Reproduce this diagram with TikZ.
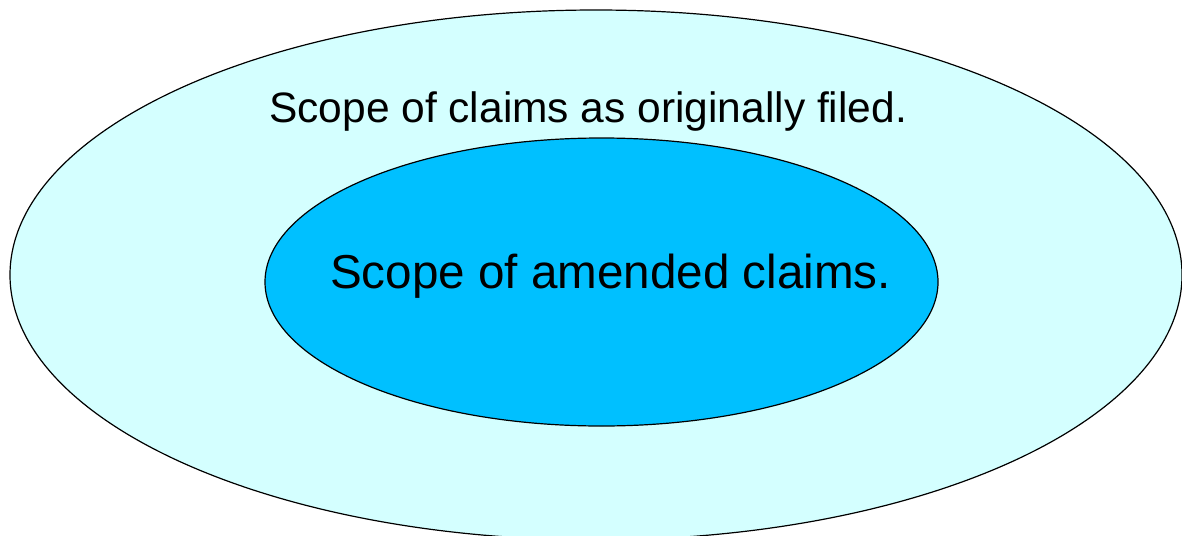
\documentclass[tikz,border=0pt]{standalone}
\usepackage{fontspec}
\setmainfont{Liberation Sans}
\definecolor{outerfill}{RGB}{212,255,255}
\definecolor{innerfill}{RGB}{0,192,255}
\begin{document}
\begin{tikzpicture}[x=1pt,y=-1pt,
  region/.style={draw=black,line width=1.2pt},
  label/.style={inner sep=0pt,anchor=base west}]
  \useasboundingbox (0,0) rectangle (1182,535);
  % outer region: claims as filed
  \path[region,fill=outerfill] (596,275) ellipse [x radius=586, y radius=265];
  % inner region: amended claims
  \path[region,fill=innerfill] (601.5,282) ellipse [x radius=336.5, y radius=144];
  \node[label,font=\fontsize{42.5}{50}\selectfont] (filed) at (269,122) {Scope of claims as originally filed.};
  \node[label,font=\fontsize{47.6}{56}\selectfont] (amended) at (330,288) {Scope of amended claims.};
\end{tikzpicture}
\end{document}
